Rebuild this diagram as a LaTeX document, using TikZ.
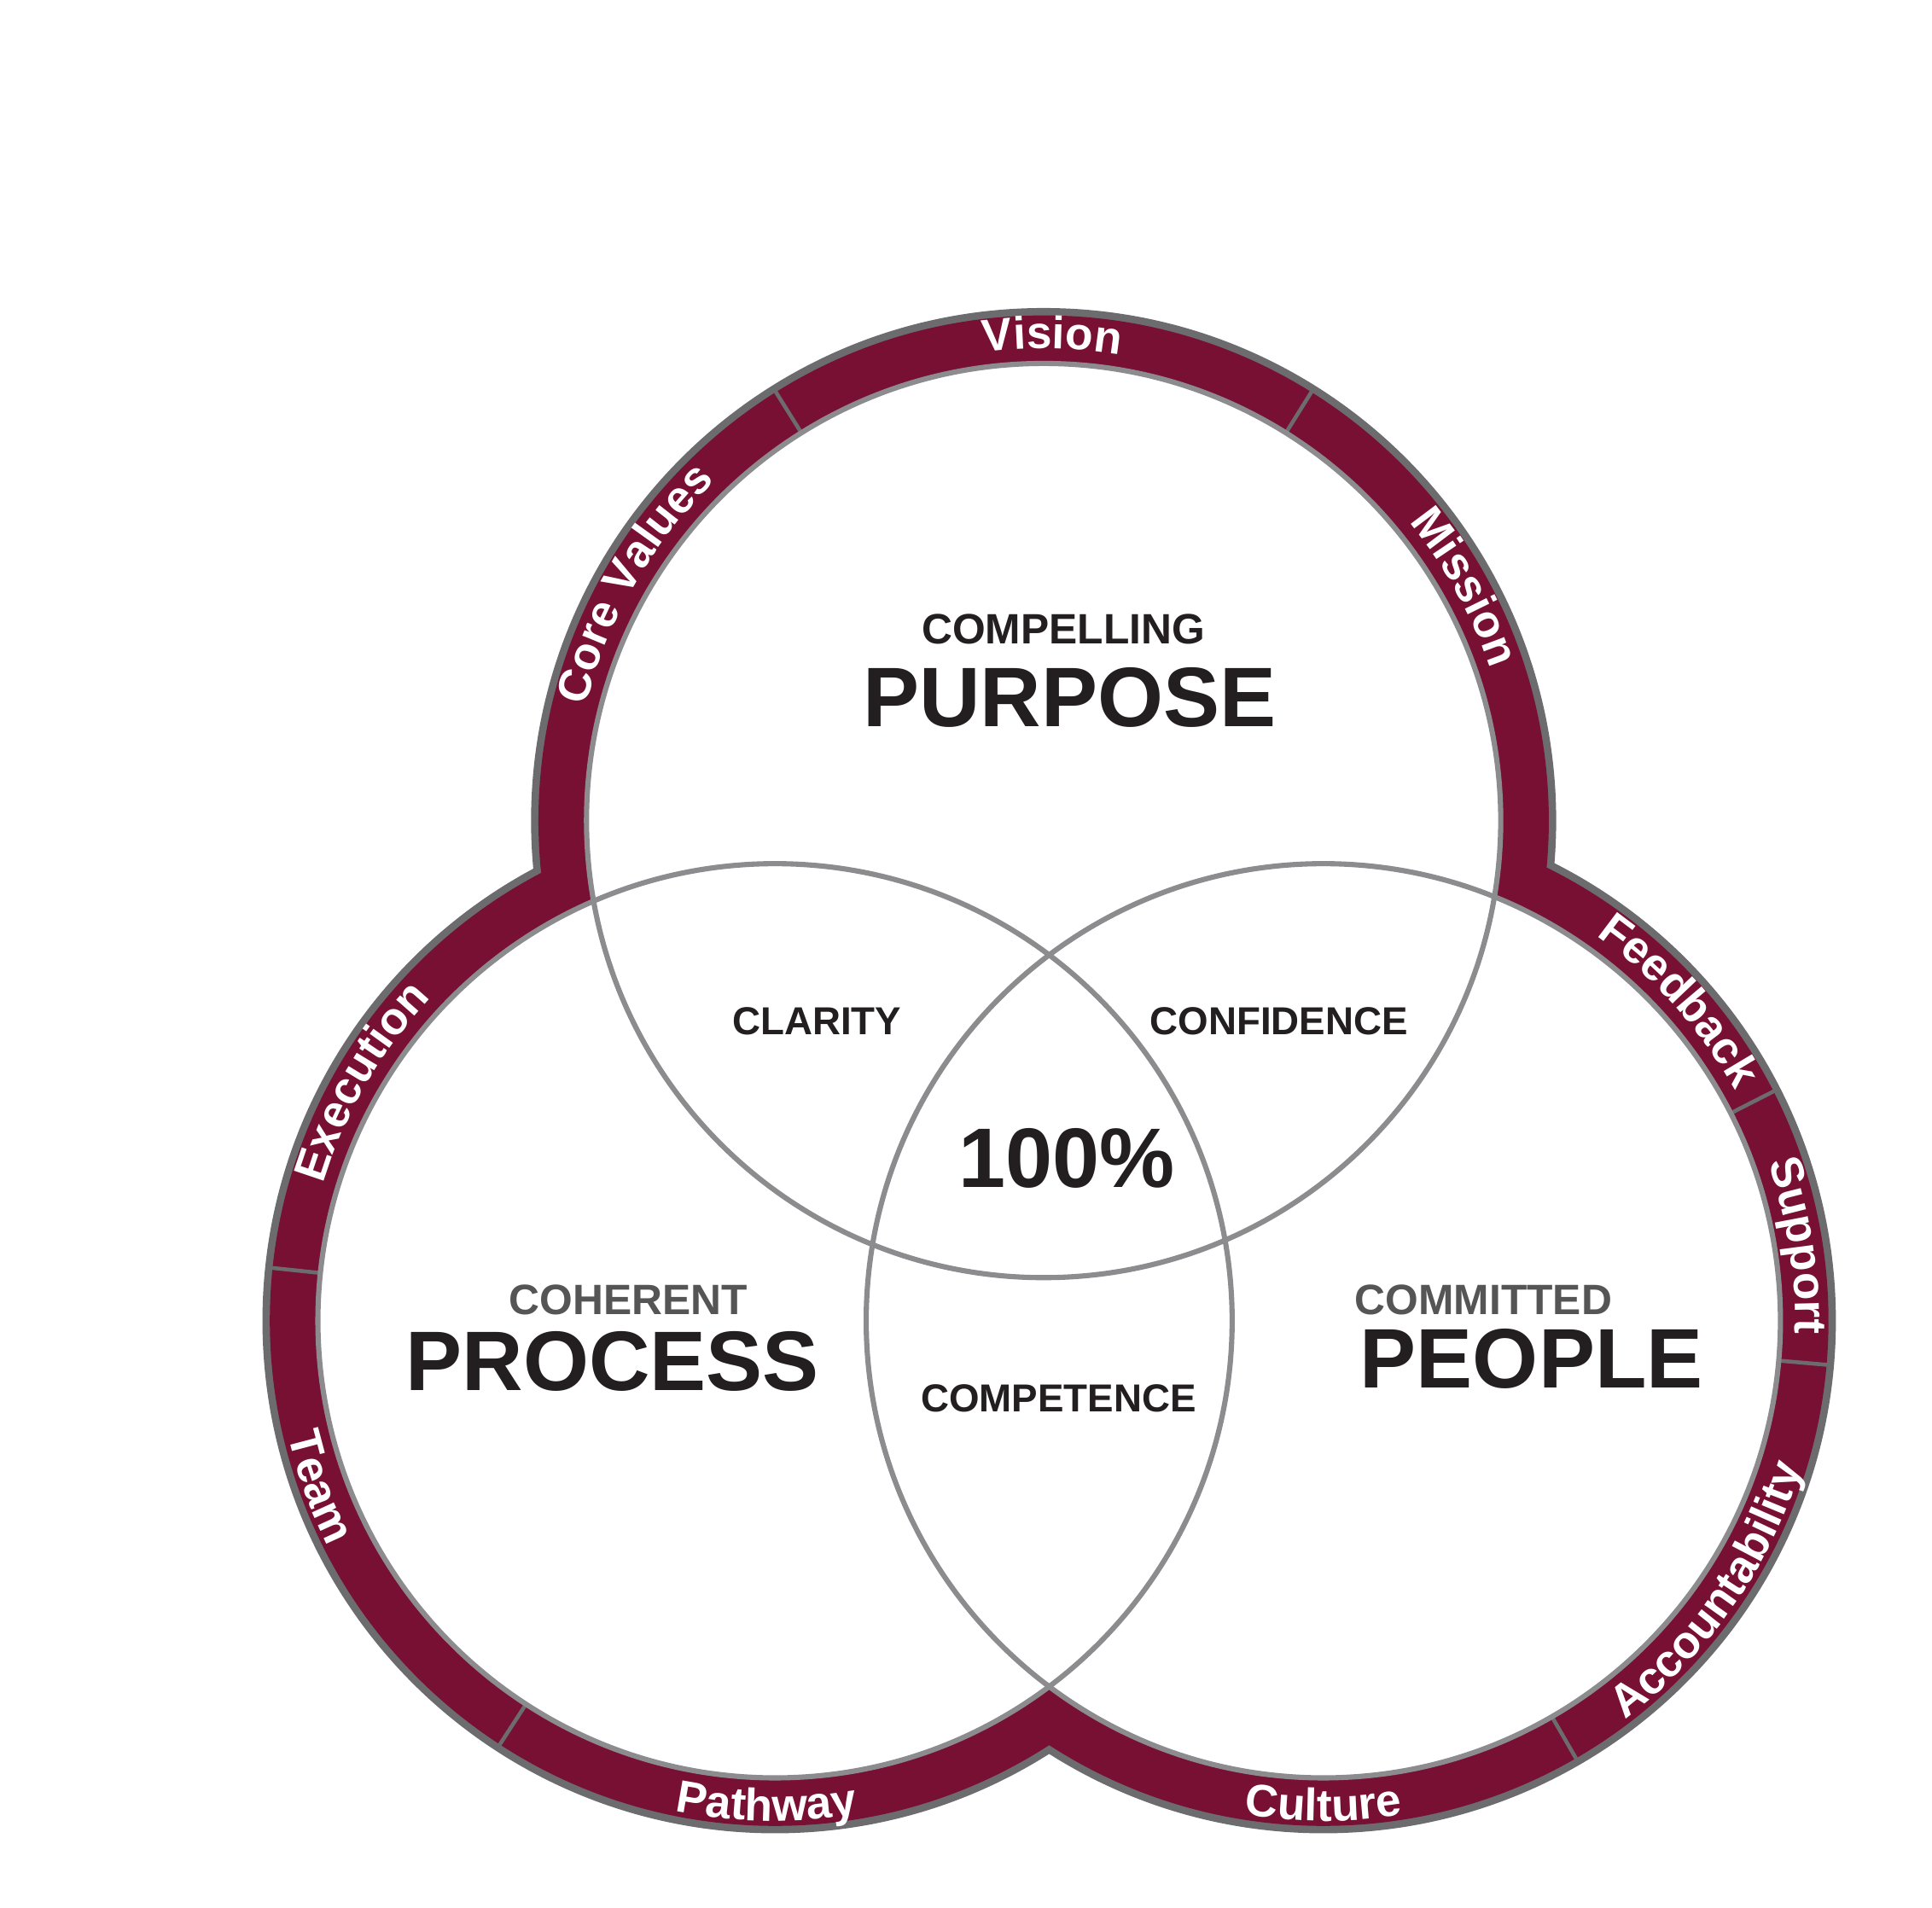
\documentclass[tikz,border=0pt]{standalone}
\usepackage{fontspec}
\setmainfont{Liberation Sans}
\usetikzlibrary{decorations.text}
\definecolor{bandred}{RGB}{120,16,52}
\definecolor{bandgray}{RGB}{108,108,110}
\definecolor{ringgray}{RGB}{140,140,143}
\definecolor{inkdark}{RGB}{35,31,32}
\definecolor{subgray}{RGB}{85,85,85}
\newcommand\bandfont{\color{white}\fontsize{10.5}{10.5}\bfseries}

\begin{document}
\begin{tikzpicture}[
    x=0.01cm, y=0.01cm,
    label/.style={font=\fontsize{9}{10}\selectfont\bfseries, text=inkdark},
    sublabel/.style={font=\fontsize{9.8}{11}\selectfont\bfseries, text=subgray},
    biglabel/.style={font=\fontsize{19.5}{20}\selectfont\bfseries, text=inkdark},
    ring/.style={draw=ringgray, line width=1.2pt},
    sep/.style={draw=bandgray, line width=0.9pt}
]
\useasboundingbox (0,0) rectangle (1568,1548);

\coordinate (ctop) at (847,882);
\coordinate (cleft) at (629,476);
\coordinate (cright) at (1074,476);

% outer band
\foreach \c in {ctop,cleft,cright} \fill[bandgray] (\c) circle[radius=416];
\foreach \c in {ctop,cleft,cright} \fill[bandred] (\c) circle[radius=410];

% band separators
\foreach \c/\a in {ctop/122, ctop/58, cleft/174, cleft/237, cright/27, cright/-5, cright/-60}
  \draw[sep] (\c) ++(\a:370) -- ++(\a:44);

% inner circles
\foreach \c in {ctop,cleft,cright} \fill[white] (\c) circle[radius=371];
\foreach \c in {ctop,cleft,cright} \draw[ring] (\c) circle[radius=371];

% band texts, clockwise
\path[decorate, decoration={text along path, text align=center, text={|\bandfont|Vision}}]
  (ctop) ++(129:383) arc[start angle=129, end angle=49, radius=383];
\path[decorate, decoration={text along path, text align=center, text={|\bandfont|Core Values}}]
  (ctop) ++(190:383) arc[start angle=190, end angle=110, radius=383];
\path[decorate, decoration={text along path, text align=center, text={|\bandfont|Mission}}]
  (ctop) ++(69:383) arc[start angle=69, end angle=-11, radius=383];
\path[decorate, decoration={text along path, text align=center, text={|\bandfont|Execution}}]
  (cleft) ++(190:383) arc[start angle=190, end angle=110, radius=383];
\path[decorate, decoration={text along path, text align=center, text={|\bandfont|Feedback}}]
  (cright) ++(82:383) arc[start angle=82, end angle=2, radius=383];
\path[decorate, decoration={text along path, text align=center, text={|\bandfont|Support}}]
  (cright) ++(49:383) arc[start angle=49, end angle=-31, radius=383];

% band texts, counterclockwise
\path[decorate, decoration={text along path, text align=center, text={|\bandfont|Team}}]
  (cleft) ++(160:406) arc[start angle=160, end angle=240, radius=406];
\path[decorate, decoration={text along path, text align=center, text={|\bandfont|Pathway}}]
  (cleft) ++(229:406) arc[start angle=229, end angle=309, radius=406];
\path[decorate, decoration={text along path, text align=center, text={|\bandfont|Culture}}]
  (cright) ++(230:406) arc[start angle=230, end angle=310, radius=406];
\path[decorate, decoration={text along path, text align=center, text={|\bandfont|Accountability}}]
  (cright) ++(-75:406) arc[start angle=-75, end angle=5, radius=406];

% labels
\node[sublabel, text=inkdark] (compelling) at (863,1037) {COMPELLING};
\node[biglabel] (purpose) at (868,982) {PURPOSE};
\node[label] (clarity) at (663,719) {CLARITY};
\node[label] (confidence) at (1038,719) {CONFIDENCE};
\node[biglabel] (full) at (866,608) {100\%};
\node[label] (competence) at (859,413) {COMPETENCE};
\node[sublabel] (coherent) at (510,493) {COHERENT};
\node[biglabel] (process) at (497,443) {PROCESS};
\node[sublabel] (committed) at (1204,493) {COMMITTED};
\node[biglabel] (people) at (1243,445) {PEOPLE};

\end{tikzpicture}
\end{document}
